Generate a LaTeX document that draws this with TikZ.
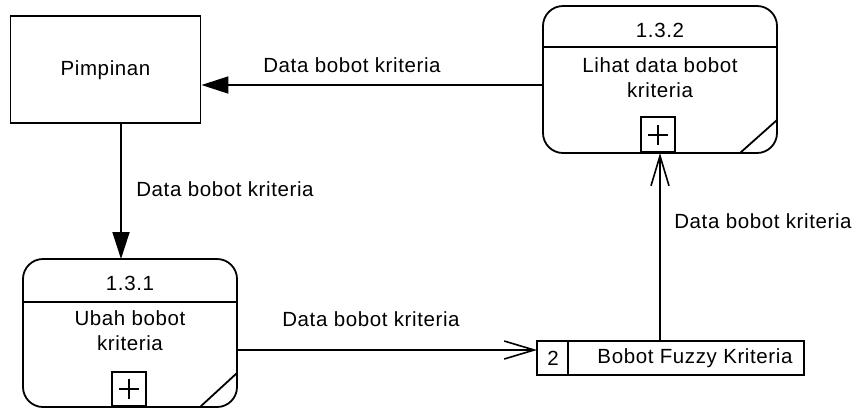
\documentclass[tikz,border=0pt]{standalone}
\usepackage{fontspec}
\setmainfont{Liberation Sans}[LetterSpace=3]
\usetikzlibrary{arrows.meta,calc}
\begin{document}
\begin{tikzpicture}[x=1pt,y=-1pt,line width=1.8pt,
  lbl/.style={font=\fontsize{20.5}{25}\selectfont,inner sep=0pt,align=center},
  entity/.style={draw,minimum width=190pt,minimum height=107pt,inner sep=0pt},
  process/.style={draw,rounded corners=20pt,inner sep=0pt},
  storebox/.style={draw,minimum height=34pt,inner sep=0pt},
  filledtip/.style={-{Triangle[length=27pt,width=17pt]}},
  opentip/.style={-{Straight Barb[length=30pt,width=18pt,line width=1.6pt]}}]
\useasboundingbox (0,0) rectangle (856,408);

% external entity
\node[entity] (pim) at (105.5,69.5) {};
\node[lbl] (pimtxt) at (105.5,70) {Pimpinan};

% process 1.3.2
\node[process,minimum width=234pt,minimum height=147pt] (p2) at (660,79.5) {};
\draw (p2.west |- 0,47) -- (p2.east |- 0,47);
\node[draw,minimum width=34pt,minimum height=35pt,inner sep=0pt,anchor=south] (p2plus) at (658,153) {};
\draw (p2plus.center) ++(-10,0) -- ++(20,0) (p2plus.center) ++(0,-10) -- ++(0,20);
\draw (740,153) -- (777,120);
\node[lbl] (p2num) at (660,30) {1.3.2};
\node[lbl] (p2name) at (660,77.5) {Lihat data bobot\\kriteria};

% process 1.3.1
\node[process,minimum width=214pt,minimum height=148pt] (p1) at (130,333) {};
\draw (p1.west |- 0,302) -- (p1.east |- 0,302);
\node[draw,minimum width=34pt,minimum height=34pt,inner sep=0pt,anchor=south] (p1plus) at (129,407) {};
\draw (p1plus.center) ++(-10,0) -- ++(20,0) (p1plus.center) ++(0,-10) -- ++(0,20);
\draw (200,407) -- (237,373);
\node[lbl] (p1num) at (130,283) {1.3.1};
\node[lbl] (p1name) at (130,331) {Ubah bobot\\kriteria};

% data store
\node[storebox,minimum width=267pt] (st) at (670.5,358) {};
\draw (568,341) -- (568,375);
\node[lbl] (stnum) at (553,358) {2};
\node[lbl] (stname) at (695,358) {Bobot Fuzzy Kriteria};

% flow anchors
\coordinate (a1) at (p2.west |- 0,85);
\coordinate (a2) at (pim.east |- 0,85);
\coordinate (b1) at (121,123);
\coordinate (b2) at (121,259);
\coordinate (c1) at (237,350);
\coordinate (c2) at (537,350);
\coordinate (d1) at (660,341);
\coordinate (d2) at (660,153);

% data flows
\draw[filledtip] (a1) -- (a2);
\draw[filledtip] (b1) -- (b2);
\draw[opentip] (c1) -- (c2);
\draw[opentip] (d1) -- (d2);

\node[lbl] (fl1) at (352,65) {Data bobot kriteria};
\node[lbl] (fl2) at (225,189) {Data bobot kriteria};
\node[lbl] (fl3) at (371,319) {Data bobot kriteria};
\node[lbl] (fl4) at (763,221) {Data bobot kriteria};
\end{tikzpicture}
\end{document}
